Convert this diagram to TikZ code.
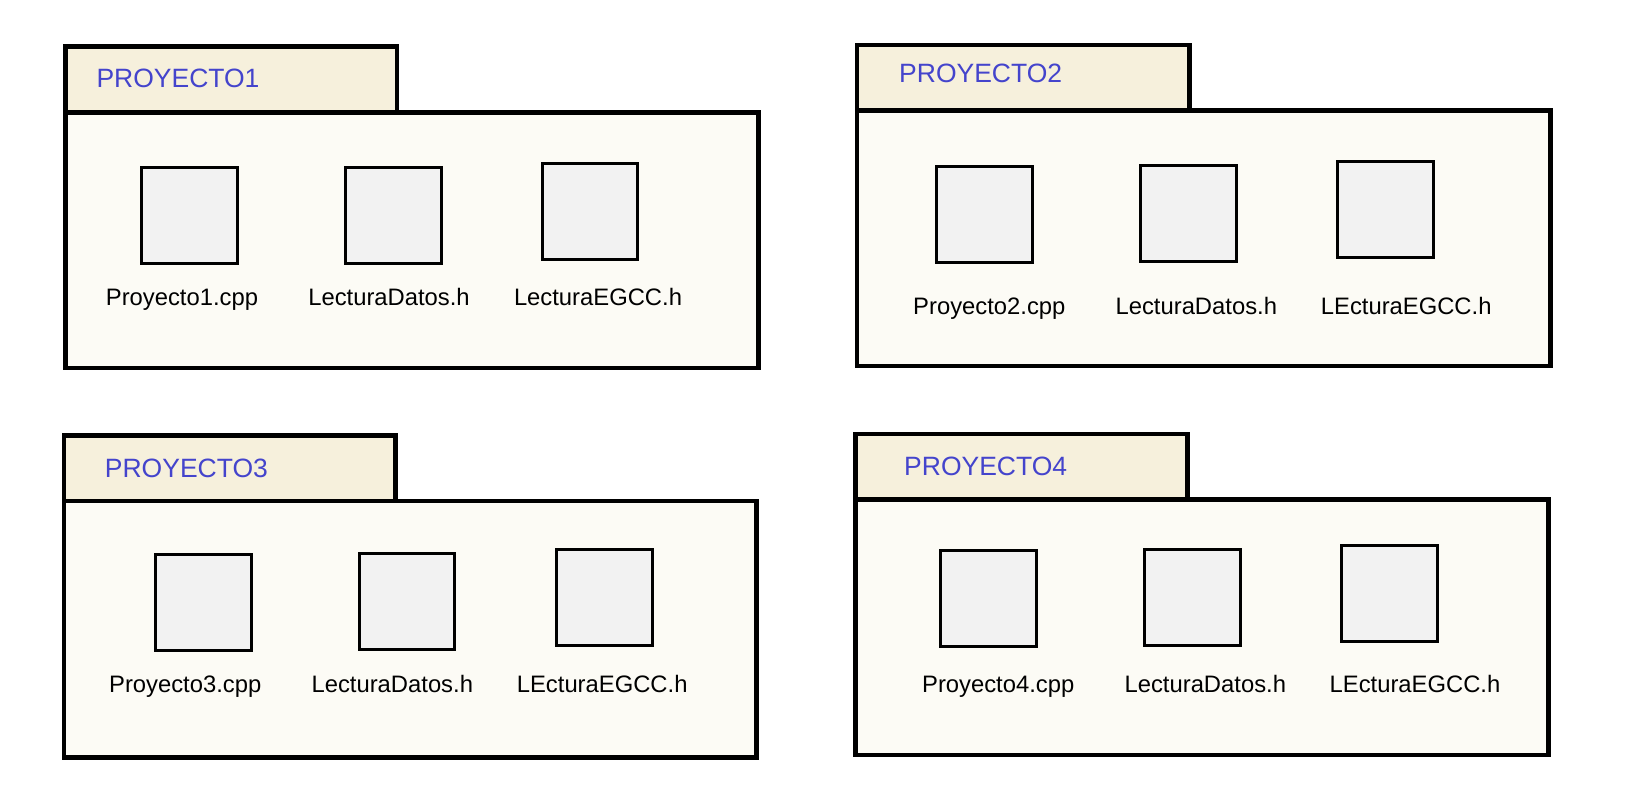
\documentclass[tikz,border=0pt]{standalone}
\usepackage{fontspec}
\setmainfont{Liberation Sans}
\definecolor{tabfill}{RGB}{246,240,220}
\definecolor{bodyfill}{RGB}{252,251,245}
\definecolor{filefill}{RGB}{242,242,242}
\definecolor{titleblue}{RGB}{68,68,204}
\begin{document}
\begin{tikzpicture}[x=1pt,y=-1pt,
  pkgline/.style={draw=black,line width=4.5pt},
  tabbox/.style={pkgline,fill=tabfill},
  bodybox/.style={pkgline,fill=bodyfill},
  filebox/.style={draw=black,line width=3pt,fill=filefill,rectangle,inner sep=0pt,minimum width=95.5pt,minimum height=96pt},
  titletext/.style={text=titleblue,font=\fontsize{26.5}{30}\selectfont,anchor=base west,inner sep=0pt},
  filelabel/.style={text=black,font=\fontsize{23.8}{28}\selectfont,anchor=base,inner sep=0pt}]
\useasboundingbox[fill=white] (0,0) rectangle (1632,799);

% ---- PROYECTO1
\path[bodybox] (65.7,112.3) rectangle (758.3,368);
\path[tabbox] (65.7,46.3) rectangle (397,112.3);
\node[titletext] (t1) at (96.3,87.7) {PROYECTO1};
\node[filebox] (p1a) at (189.5,216) {};
\node[filebox] (p1b) at (393.3,215.3) {};
\node[filebox] (p1c) at (590.1,211.2) {};
\node[filelabel] (l1a) at (182,306) {Proyecto1.cpp};
\node[filelabel] (l1b) at (389,306) {LecturaDatos.h};
\node[filelabel] (l1c) at (598,306) {LecturaEGCC.h};

% ---- PROYECTO2
\path[bodybox] (857.2,110.5) rectangle (1550.3,366.2);
\path[tabbox] (857.2,45) rectangle (1189.5,110.5);
\node[titletext] (t2) at (899,82.7) {PROYECTO2};
\node[filebox] (p2a) at (984.3,214.3) {};
\node[filebox] (p2b) at (1188.5,213.3) {};
\node[filebox] (p2c) at (1385.5,209.5) {};
\node[filelabel] (l2a) at (989.3,315) {Proyecto2.cpp};
\node[filelabel] (l2b) at (1196.3,315) {LecturaDatos.h};
\node[filelabel] (l2c) at (1406.2,315) {LEcturaEGCC.h};

% ---- PROYECTO3
\path[bodybox] (63.8,501.2) rectangle (756.3,757.5);
\path[tabbox] (63.8,435.7) rectangle (395.5,501.2);
\node[titletext] (t3) at (104.7,477.7) {PROYECTO3};
\node[filebox] (p3a) at (203.5,602.3) {};
\node[filebox] (p3b) at (407.2,601.3) {};
\node[filebox] (p3c) at (604.5,597.2) {};
\node[filelabel] (l3a) at (185.2,692.7) {Proyecto3.cpp};
\node[filelabel] (l3b) at (392.3,692.7) {LecturaDatos.h};
\node[filelabel] (l3c) at (602.2,692.7) {LEcturaEGCC.h};

% ---- PROYECTO4
\path[bodybox] (855.5,499.5) rectangle (1548.3,755);
\path[tabbox] (855.5,433.8) rectangle (1187.3,499.5);
\node[titletext] (t4) at (904,475) {PROYECTO4};
\node[filebox] (p4a) at (988.5,598.4) {};
\node[filebox] (p4b) at (1192.4,597.4) {};
\node[filebox] (p4c) at (1389.5,593.3) {};
\node[filelabel] (l4a) at (998.2,692.7) {Proyecto4.cpp};
\node[filelabel] (l4b) at (1205.3,692.7) {LecturaDatos.h};
\node[filelabel] (l4c) at (1415,692.7) {LEcturaEGCC.h};
\end{tikzpicture}
\end{document}
